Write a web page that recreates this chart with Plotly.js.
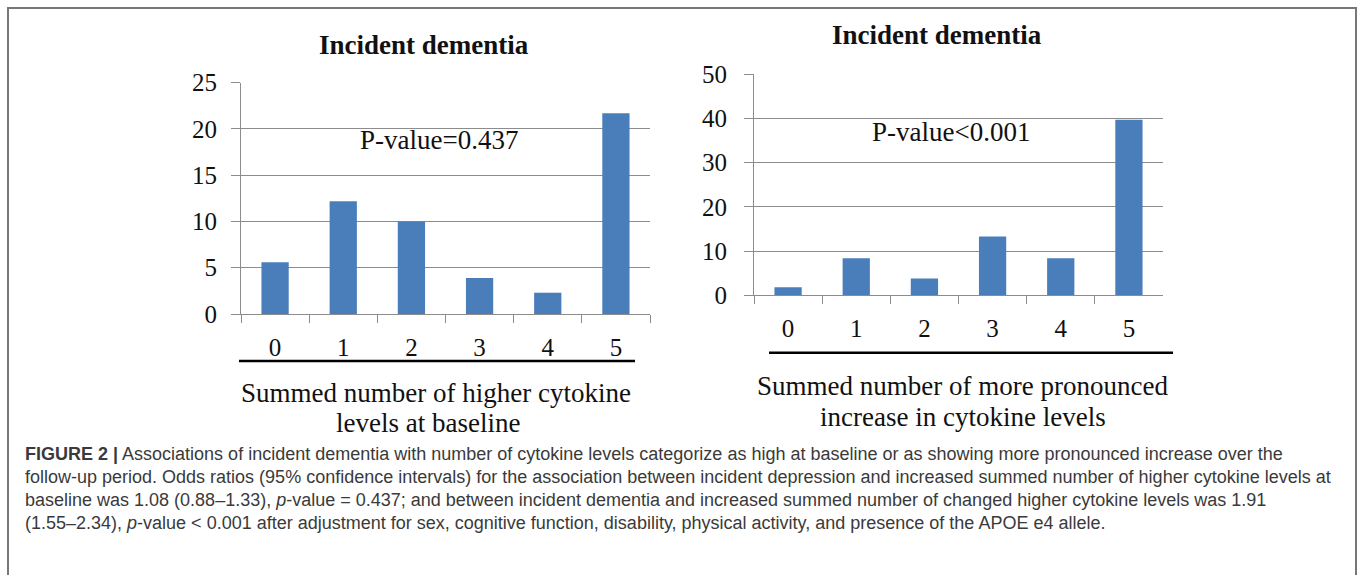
<!DOCTYPE html>
<html>
<head>
<meta charset="utf-8">
<script src="https://cdn.plot.ly/plotly-3.0.1.min.js"></script>
<style>
  html, body { margin: 0; padding: 0; background: #ffffff; }
  #chart { width: 1358px; height: 575px; }
</style>
</head>
<body>
<div id="chart"></div>
<script>
// ---- data ----
const categories = ['0', '1', '2', '3', '4', '5'];
const baselineValues = [5.6, 12.2, 10.0, 3.9, 2.3, 21.7];   // higher cytokine levels at baseline
const increaseValues = [1.8, 8.4, 3.8, 13.3, 8.4, 39.7];    // more pronounced increase
const leftTicks = [0, 5, 10, 15, 20, 25];
const rightTicks = [0, 10, 20, 30, 40, 50];
const chartTitle = 'Incident dementia';
const leftXTitle = ['Summed number of higher cytokine', 'levels at baseline'];
const rightXTitle = ['Summed number of more pronounced', 'increase in cytokine levels'];
const leftPText = 'P-value=0.437';
const rightPText = 'P-value&lt;0.001';
const captionLines = [
  '<b>FIGURE 2 |</b> Associations of incident dementia with number of cytokine levels categorize as high at baseline or as showing more pronounced increase over the',
  'follow-up period. Odds ratios (95% confidence intervals) for the association between incident depression and increased summed number of higher cytokine levels at',
  'baseline was 1.08 (0.88–1.33), <i>p</i>-value = 0.437; and between incident dementia and increased summed number of changed higher cytokine levels was 1.91',
  '(1.55–2.34), <i>p</i>-value &lt; 0.001 after adjustment for sex, cognitive function, disability, physical activity, and presence of the APOE e4 allele.'
];

// ---- layout helpers ----
const W = 1358, H = 575;
const px = v => v / W;
const py = v => 1 - v / H;
const serif = 'Liberation Serif, Times New Roman, serif';
const sans = 'Liberation Sans, Arial, sans-serif';
const barColor = '#4a7ebb';
const gridColor = '#8c8c8c';

const traces = [
  { type: 'bar', x: categories, y: baselineValues, xaxis: 'x', yaxis: 'y',
    marker: { color: barColor }, hoverinfo: 'x+y', showlegend: false },
  { type: 'bar', x: categories, y: increaseValues, xaxis: 'x2', yaxis: 'y2',
    marker: { color: barColor }, hoverinfo: 'x+y', showlegend: false }
];

function xAxis(domain, anchor) {
  return {
    domain: domain, anchor: anchor, type: 'category', range: [-0.5, 5.5],
    tickson: 'boundaries', ticks: 'outside', ticklen: 8, tickcolor: gridColor, tickwidth: 1,
    showline: true, linecolor: gridColor, linewidth: 1, showgrid: false, zeroline: false,
    tickfont: { family: serif, size: 25, color: '#111' },
    ticklabelstandoff: 11,
    automargin: false, fixedrange: true
  };
}
function yAxis(domain, ticks, anchor, standoff) {
  return {
    domain: domain, anchor: anchor, range: [ticks[0], ticks[ticks.length - 1]],
    tickmode: 'array', tickvals: ticks, ticktext: ticks.map(String),
    ticks: 'outside', ticklen: 9, tickcolor: gridColor, tickwidth: 1,
    showline: true, linecolor: gridColor, linewidth: 1,
    showgrid: true, gridcolor: gridColor, gridwidth: 1, zeroline: false,
    tickfont: { family: serif, size: 25, color: '#111' },
    ticklabelstandoff: standoff,
    automargin: false, fixedrange: true
  };
}

function label(text, x, y, size, anchor) {
  return { text: text, xref: 'paper', yref: 'paper', x: px(x), y: py(y),
    xanchor: anchor || 'center', yanchor: 'middle', showarrow: false,
    font: { family: serif, size: size, color: '#111' } };
}

const annotations = [
  label('<b>' + chartTitle + '</b>', 423.5, 45, 27),
  label('<b>' + chartTitle + '</b>', 936.5, 35, 27),
  label(leftPText, 438.5, 140, 27),
  label(rightPText, 951, 131.7, 27),
  // x-axis titles (two centred lines each, under the heavy rule)
  label(leftXTitle[0], 436, 393, 27),
  label(leftXTitle[1], 428, 423, 27),
  label(rightXTitle[0], 962.5, 386, 27),
  label(rightXTitle[1], 963, 416.7, 27)
];
const captionY = [454, 477, 500, 523];
captionLines.forEach((t, i) => {
  annotations.push({ text: t, xref: 'paper', yref: 'paper', x: px(23), y: py(captionY[i]),
    xanchor: 'left', yanchor: 'middle', showarrow: false, align: 'left',
    font: { family: sans, size: 18, color: '#3a3a3a' } });
});

const shapes = [
  // figure frame
  { type: 'rect', xref: 'paper', yref: 'paper', x0: px(8), x1: px(1356), y0: py(8), y1: py(600),
    line: { color: '#777', width: 2 }, fillcolor: 'rgba(0,0,0,0)', layer: 'below' },
  // heavy rules under category labels
  { type: 'line', xref: 'paper', yref: 'paper', x0: px(239), x1: px(635), y0: py(361), y1: py(361),
    line: { color: '#000', width: 2.5 } },
  { type: 'line', xref: 'paper', yref: 'paper', x0: px(769), x1: px(1173), y0: py(352.7), y1: py(352.7),
    line: { color: '#000', width: 2.5 } }
];

const layout = {
  width: W, height: H,
  margin: { l: 0, r: 0, t: 0, b: 0 },
  paper_bgcolor: '#ffffff', plot_bgcolor: '#ffffff',
  bargap: 0.6,
  showlegend: false,
  xaxis: xAxis([px(241), px(650)], 'y'),
  yaxis: yAxis([py(314), py(82.7)], leftTicks, 'x', 9),
  xaxis2: xAxis([px(754), px(1163)], 'y2'),
  yaxis2: yAxis([py(295.3), py(74.3)], rightTicks, 'x2', 12),
  annotations: annotations,
  shapes: shapes
};

Plotly.newPlot('chart', traces, layout, { displayModeBar: false });
</script>
</body>
</html>
